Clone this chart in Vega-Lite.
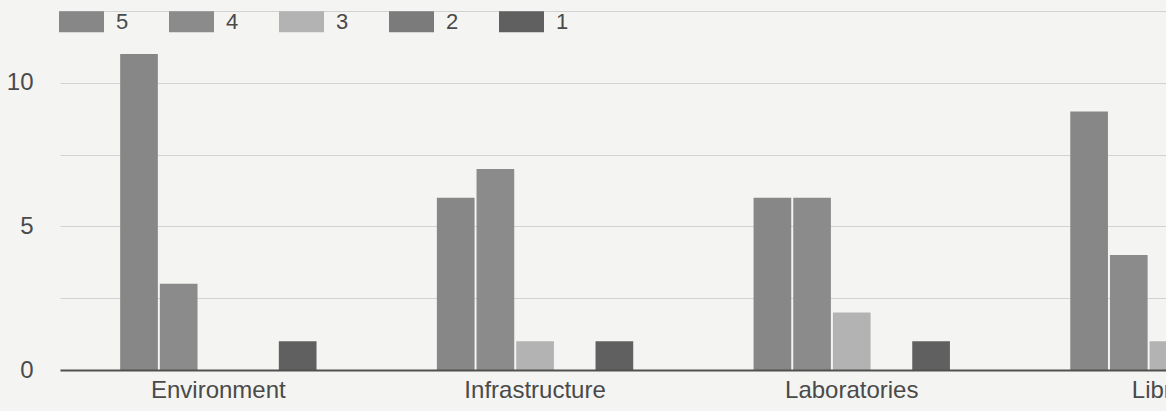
{
  "$schema": "https://vega.github.io/schema/vega-lite/v6.json",
  "width": 1106,
  "height": 359,
  "autosize": "none",
  "padding": {"left": 60, "top": 11, "right": 0, "bottom": 41},
  "background": "#f4f4f2",
  "data": {
    "values": [
      {"category": "Environment", "rating": "5", "count": 11},
      {"category": "Environment", "rating": "4", "count": 3},
      {"category": "Environment", "rating": "3", "count": 0},
      {"category": "Environment", "rating": "2", "count": 0},
      {"category": "Environment", "rating": "1", "count": 1},
      {"category": "Infrastructure", "rating": "5", "count": 6},
      {"category": "Infrastructure", "rating": "4", "count": 7},
      {"category": "Infrastructure", "rating": "3", "count": 1},
      {"category": "Infrastructure", "rating": "2", "count": 0},
      {"category": "Infrastructure", "rating": "1", "count": 1},
      {"category": "Laboratories", "rating": "5", "count": 6},
      {"category": "Laboratories", "rating": "4", "count": 6},
      {"category": "Laboratories", "rating": "3", "count": 2},
      {"category": "Laboratories", "rating": "2", "count": 0},
      {"category": "Laboratories", "rating": "1", "count": 1},
      {"category": "Library", "rating": "5", "count": 9},
      {"category": "Library", "rating": "4", "count": 4},
      {"category": "Library", "rating": "3", "count": 1},
      {"category": "Library", "rating": "2", "count": 0},
      {"category": "Library", "rating": "1", "count": 1}
    ]
  },
  "mark": {"type": "bar"},
  "encoding": {
    "x": {
      "field": "category",
      "type": "nominal",
      "sort": null,
      "scale": {"range": [0, 1266.8], "paddingInner": 0.38, "paddingOuter": 0.19},
      "axis": {
        "title": null,
        "zindex": 1,
        "domain": true,
        "domainColor": "#505050",
        "domainWidth": 2,
        "ticks": false,
        "grid": false,
        "labelAngle": 0,
        "labelFont": "Liberation Sans",
        "labelFontSize": 24,
        "labelColor": "#4a4a4a",
        "labelPadding": 8,
        "labelOverlap": false
      }
    },
    "xOffset": {
      "field": "rating",
      "type": "nominal",
      "sort": ["5", "4", "3", "2", "1"],
      "scale": {"paddingInner": 0.05, "paddingOuter": 0}
    },
    "y": {
      "field": "count",
      "type": "quantitative",
      "scale": {"domain": [0, 12.5], "nice": false},
      "axis": {
        "title": null,
        "domain": false,
        "ticks": false,
        "grid": true,
        "gridColor": "#d2d2d2",
        "gridWidth": 1,
        "values": [0, 2.5, 5, 7.5, 10, 12.5],
        "labelExpr": "datum.value % 5 === 0 ? datum.label : ''",
        "labelFont": "Liberation Sans",
        "labelFontSize": 24,
        "labelColor": "#4a4a4a",
        "labelPadding": 27
      }
    },
    "color": {
      "field": "rating",
      "type": "nominal",
      "sort": ["5", "4", "3", "2", "1"],
      "scale": {
        "domain": ["5", "4", "3", "2", "1"],
        "range": ["#878787", "#8b8b8b", "#b3b3b3", "#7b7b7b", "#606060"]
      },
      "legend": {
        "orient": "none",
        "legendX": -1,
        "legendY": -12,
        "direction": "horizontal",
        "columns": 5,
        "title": null,
        "padding": 0,
        "symbolType": "M-1,-0.467H1V0.467H-1Z",
        "symbolSize": 2025,
        "symbolStrokeWidth": 0,
        "symbolOpacity": 1,
        "labelFont": "Liberation Sans",
        "labelFontSize": 22,
        "labelColor": "#4a4a4a",
        "labelOffset": 12,
        "columnPadding": 40
      }
    }
  },
  "config": {"view": {"stroke": null}}
}
